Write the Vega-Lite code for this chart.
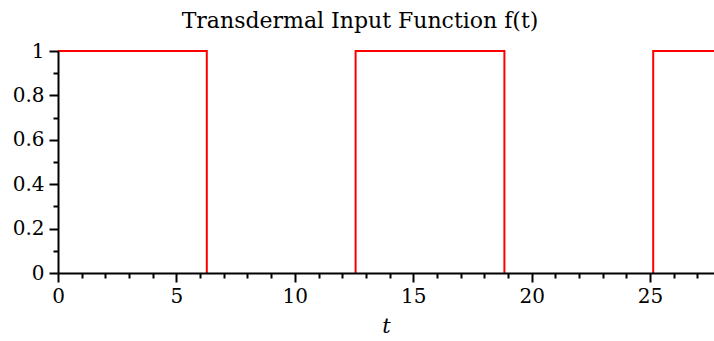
{
  "$schema": "https://vega.github.io/schema/vega-lite/v6.json",
  "autosize": "none",
  "width": 656,
  "height": 222,
  "padding": {"left": 58, "top": 51, "right": 0, "bottom": 68},
  "background": "white",
  "title": {
    "text": "Transdermal Input Function f(t)",
    "font": "DejaVu Serif",
    "fontSize": 22,
    "fontWeight": "normal",
    "color": "black",
    "anchor": "middle",
    "dx": -26,
    "offset": 8
  },
  "config": {"view": {"stroke": null}},
  "data": {
    "values": [
      {"pulse": 1, "i": 0, "t": 0, "f": 1},
      {"pulse": 1, "i": 1, "t": 6.2832, "f": 1},
      {"pulse": 1, "i": 2, "t": 6.2832, "f": 0},
      {"pulse": 2, "i": 3, "t": 12.5664, "f": 0},
      {"pulse": 2, "i": 4, "t": 12.5664, "f": 1},
      {"pulse": 2, "i": 5, "t": 18.8496, "f": 1},
      {"pulse": 2, "i": 6, "t": 18.8496, "f": 0},
      {"pulse": 3, "i": 7, "t": 25.1327, "f": 0},
      {"pulse": 3, "i": 8, "t": 25.1327, "f": 1},
      {"pulse": 3, "i": 9, "t": 27.7, "f": 1}
    ]
  },
  "mark": {"type": "line", "color": "#ff0000", "strokeWidth": 2, "clip": false},
  "encoding": {
    "detail": {"field": "pulse", "type": "nominal"},
    "order": {"field": "i", "type": "quantitative"},
    "x": {
      "field": "t",
      "type": "quantitative",
      "scale": {"domain": [0, 27.7], "nice": false, "zero": false},
      "axis": {
        "title": "t",
        "titleFont": "DejaVu Serif",
        "titleFontStyle": "italic",
        "titleFontWeight": "normal",
        "titleFontSize": 21,
        "titleColor": "black",
        "titlePadding": 9,
        "values": [0,1,2,3,4,5,6,7,8,9,10,11,12,13,14,15,16,17,18,19,20,21,22,23,24,25,26,27],
        "labelExpr": "datum.value % 5 === 0 ? datum.label : ''",
        "labelFont": "DejaVu Serif",
        "labelFontSize": 20,
        "labelColor": "black",
        "labelPadding": 4,
        "labelOverlap": false,
        "labelFlush": false,
        "labelBound": false,
        "tickSize": {"condition": {"test": "datum.value % 5 === 0", "value": 9}, "value": 5},
        "tickColor": "black",
        "tickWidth": 2,
        "domainColor": "black",
        "domainWidth": 2,
        "grid": false,
        "zindex": 1
      }
    },
    "y": {
      "field": "f",
      "type": "quantitative",
      "scale": {"domain": [0, 1], "nice": false},
      "axis": {
        "title": null,
        "values": [0,0.1,0.2,0.3,0.4,0.5,0.6,0.7,0.8,0.9,1],
        "format": "~g",
        "labelExpr": "round(datum.value*10) % 2 === 0 ? datum.label : ''",
        "labelFont": "DejaVu Serif",
        "labelFontSize": 20,
        "labelColor": "black",
        "labelPadding": 5,
        "labelOverlap": false,
        "labelFlush": false,
        "labelBound": false,
        "tickSize": {"condition": {"test": "round(datum.value*10) % 2 === 0", "value": 9}, "value": 5},
        "tickColor": "black",
        "tickWidth": 2,
        "domainColor": "black",
        "domainWidth": 2,
        "grid": false,
        "zindex": 1
      }
    }
  }
}
